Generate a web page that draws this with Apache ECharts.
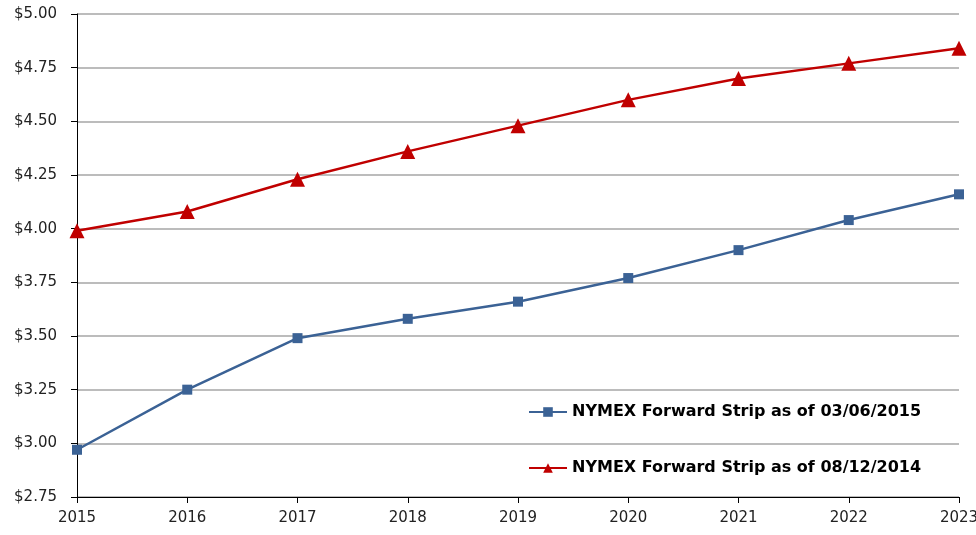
<!DOCTYPE html>
<html>
<head>
<meta charset="utf-8">
<script src="https://cdn.jsdelivr.net/npm/echarts@6/dist/echarts.min.js"></script>
<style>
  html, body { margin: 0; padding: 0; background: #fff; }
  #chart { width: 976px; height: 535px; }
</style>
</head>
<body>
<div id="chart"></div>
<script>
// years along the x axis
const years = ['2015', '2016', '2017', '2018', '2019', '2020', '2021', '2022', '2023'];

// NYMEX forward strip prices ($)
const strip20150306 = [2.97, 3.25, 3.49, 3.58, 3.66, 3.77, 3.90, 4.04, 4.16];
const strip20140812 = [3.99, 4.08, 4.23, 4.36, 4.48, 4.60, 4.70, 4.77, 4.84];

const seriesNames = ['NYMEX Forward Strip as of 03/06/2015', 'NYMEX Forward Strip as of 08/12/2014'];

const chart = echarts.init(document.getElementById('chart'), null, { renderer: 'canvas' });

const font = 'DejaVu Sans';

const option = {
    backgroundColor: '#FFFFFF',
    animation: false,
    grid: { left: 77, right: 17, top: 14, bottom: 38, outerBoundsMode: 'none' },
    legend: {
        orient: 'vertical',
        left: 528,
        top: 404,
        padding: 0,
        itemWidth: 38,
        itemHeight: 12,
        itemGap: 40,
        textStyle: { fontFamily: font, fontSize: 16, fontWeight: 'bold', color: '#000' },
        data: seriesNames
    },
    xAxis: {
        type: 'category',
        data: years,
        boundaryGap: false,
        axisLine: { lineStyle: { color: '#000', width: 1 } },
        axisTick: { show: true, length: 6, alignWithLabel: true, lineStyle: { color: '#000' } },
        axisLabel: { fontFamily: font, fontSize: 15, color: '#222', margin: 14, hideOverlap: false }
    },
    yAxis: {
        type: 'value',
        min: 2.75,
        max: 5,
        interval: 0.25,
        axisLine: { show: true, lineStyle: { color: '#000', width: 1 } },
        axisTick: { show: true, length: 6, lineStyle: { color: '#000' } },
        axisLabel: {
            fontFamily: font, fontSize: 15, color: '#222', margin: 20,
            formatter: v => '$' + v.toFixed(2)
        },
        splitLine: { lineStyle: { color: '#a6a6a6', width: 1.5 } }
    },
    series: [
        {
            name: seriesNames[0],
            type: 'line',
            data: strip20150306,
            color: '#3b6295',
            symbol: 'rect',
            symbolSize: 10,
            lineStyle: { width: 2.5 },
            itemStyle: { color: '#3b6295' }
        },
        {
            name: seriesNames[1],
            type: 'line',
            data: strip20140812,
            color: '#c00000',
            symbol: 'triangle',
            symbolSize: 15,
            lineStyle: { width: 2.5 },
            itemStyle: { color: '#c00000' }
        }
    ]
};

chart.setOption(option);
</script>
</body>
</html>
